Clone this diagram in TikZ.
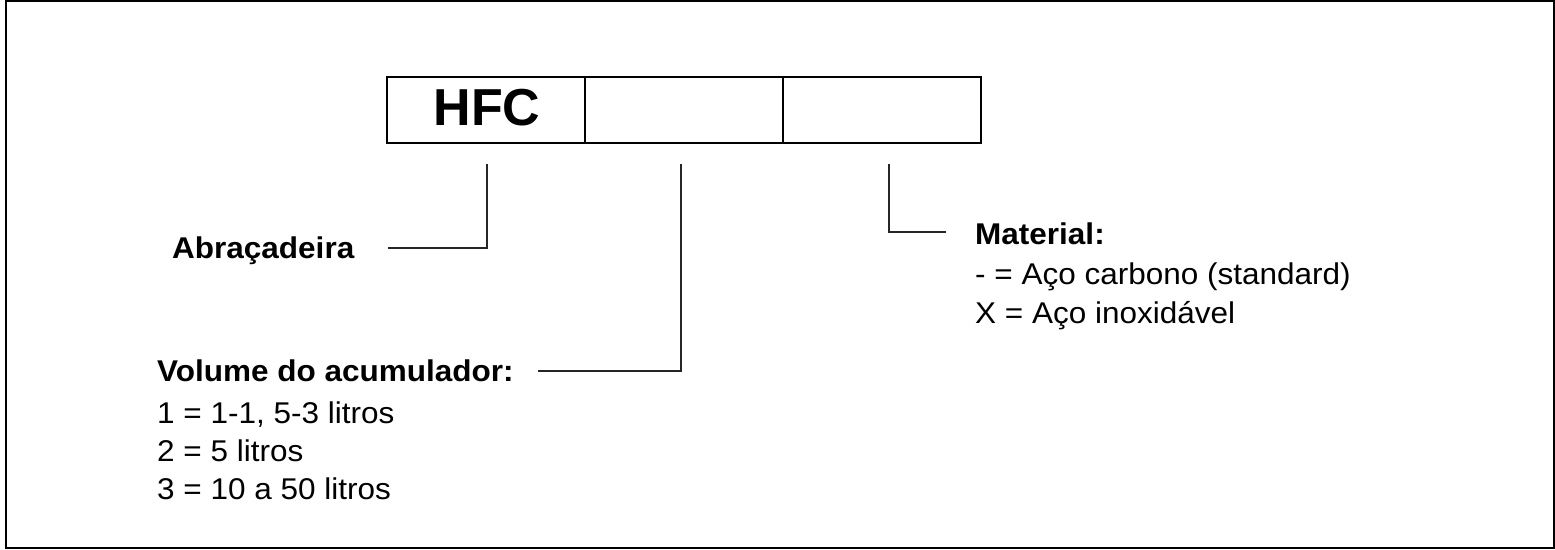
\documentclass[tikz,border=0pt]{standalone}
\usepackage{fontspec}
\setmainfont{Liberation Sans}
\newfontfamily\labfont[FakeStretch=1.05]{Liberation Sans}
\begin{document}
\begin{tikzpicture}[x=1pt,y=-1pt,
  frame/.style={line width=2pt,draw=black},
  cell/.style={draw=black,line width=2pt,minimum width=198pt,minimum height=66pt,inner sep=0pt,outer sep=0pt,anchor=north west},
  conn/.style={line width=2pt,draw=black!85},
  head/.style={anchor=base west,inner sep=0pt,font=\labfont\fontsize{30}{36}\selectfont\bfseries},
  item/.style={anchor=base west,inner sep=0pt,font=\labfont\fontsize{30}{36}\selectfont}]
\useasboundingbox (0,0) rectangle (1555,549);
\draw[frame] (6,1) rectangle (1554,548);
% code table
\node[cell] (c1) at (387,77) {};
\node[cell] (c2) at (585,77) {};
\node[cell] (c3) at (783,77) {};
\node[anchor=base,inner sep=0pt,font=\fontsize{52}{60}\selectfont\bfseries] (hfc) at (487,125) {HFC};
% labels
\node[head] (abr) at (172,258) {Abraçadeira};
\node[head] (vol) at (157,381) {Volume do acumulador:};
\node[item] (v1) at (157,423) {1 = 1-1, 5-3 litros};
\node[item] (v2) at (157,461) {2 = 5 litros};
\node[item] (v3) at (157,499) {3 = 10 a 50 litros};
\node[head] (mat) at (975,244) {Material:};
\node[item] (m1) at (975,284) {- = Aço carbono (standard)};
\node[item] (m2) at (975,323) {X = Aço inoxidável};
% connector points
\coordinate (a1) at (487,164);
\coordinate (a2) at (388,248);
\coordinate (b1) at (681,164);
\coordinate (b2) at (538,371);
\coordinate (d1) at (889,164);
\coordinate (d2) at (946,232);
\draw[conn] (a1) |- (a2);
\draw[conn] (b1) |- (b2);
\draw[conn] (d1) |- (d2);
\end{tikzpicture}
\end{document}
